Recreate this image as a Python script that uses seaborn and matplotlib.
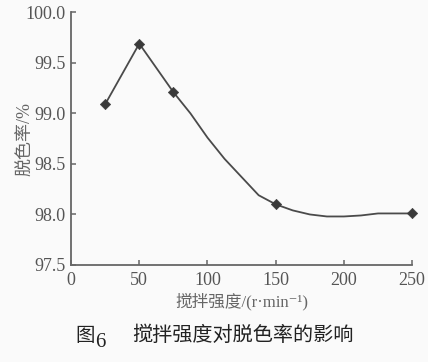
import numpy as np
import pandas as pd
import seaborn as sns
import matplotlib.pyplot as plt

# measured points (stirring speed vs decolourisation rate)
speed = [25, 50, 75, 150, 250]
rate = [99.09, 99.69, 99.21, 98.10, 98.01]

# smoothed curve
curve_x = [25, 50, 75, 87.5, 100, 112.5, 125, 137.5, 150,
           162.5, 175, 187.5, 200, 212.5, 225, 237.5, 250]
curve_y = [99.09, 99.69, 99.21, 99.00, 98.76, 98.55, 98.37, 98.19, 98.10,
           98.04, 98.00, 97.98, 97.98, 97.99, 98.01, 98.01, 98.01]

xticks = [0, 50, 100, 150, 200, 250]
yticks = [97.5, 98.0, 98.5, 99.0, 99.5, 100.0]

sns.set_style("ticks")
plt.rcParams['font.family'] = ['Liberation Serif', 'Noto Sans CJK SC', 'DejaVu Sans']

fig = plt.figure(figsize=(4.28, 3.62), dpi=100, facecolor='#fafafa')
ax = fig.add_axes([0.166, 0.268, 0.797, 0.698])
ax.set_facecolor('#fafafa')

df_curve = pd.DataFrame({'x': curve_x, 'y': curve_y})
df_pts = pd.DataFrame({'x': speed, 'y': rate})

sns.lineplot(data=df_curve, x='x', y='y', ax=ax, color='#4a4a4a', linewidth=1.3)
sns.scatterplot(data=df_pts, x='x', y='y', ax=ax, marker='D', s=28,
                color='#3a3a3a', edgecolor='#3a3a3a', zorder=3, clip_on=False)

ax.set_xlim(0, 250)
ax.set_ylim(97.5, 100.0)
ax.set_xticks(xticks)
ax.set_yticks(yticks)
ax.set_yticklabels([f'{v:.1f}' for v in yticks])

ax.tick_params(direction='in', length=3.5, width=1.1, color='#666666',
               labelcolor='#555555', labelsize=13)
ax.tick_params(axis='x', pad=5)
ax.tick_params(axis='y', pad=4)
sns.despine(ax=ax)
for s in ['left', 'bottom']:
    ax.spines[s].set_color('#666666')
    ax.spines[s].set_linewidth(1.3)

ax.set_xlabel('搅拌强度/(r·min⁻¹)', fontsize=12, color='#666666', labelpad=3)
ax.set_ylabel('脱色率/%', fontsize=13, color='#666666')
ax.yaxis.set_label_coords(-0.108, 0.5)

# figure caption
fig.text(0.175, 0.072, '图', fontsize=14, color='#222222',
         family=['Noto Sans CJK SC'], va='center')
fig.text(0.222, 0.055, '6', fontsize=15, color='#222222', va='center')
fig.text(0.31, 0.072, '搅拌强度对脱色率的影响', fontsize=14.5, color='#222222',
         family=['Noto Sans CJK SC'], va='center')

fig.savefig('out.png', dpi=100, facecolor=fig.get_facecolor())
